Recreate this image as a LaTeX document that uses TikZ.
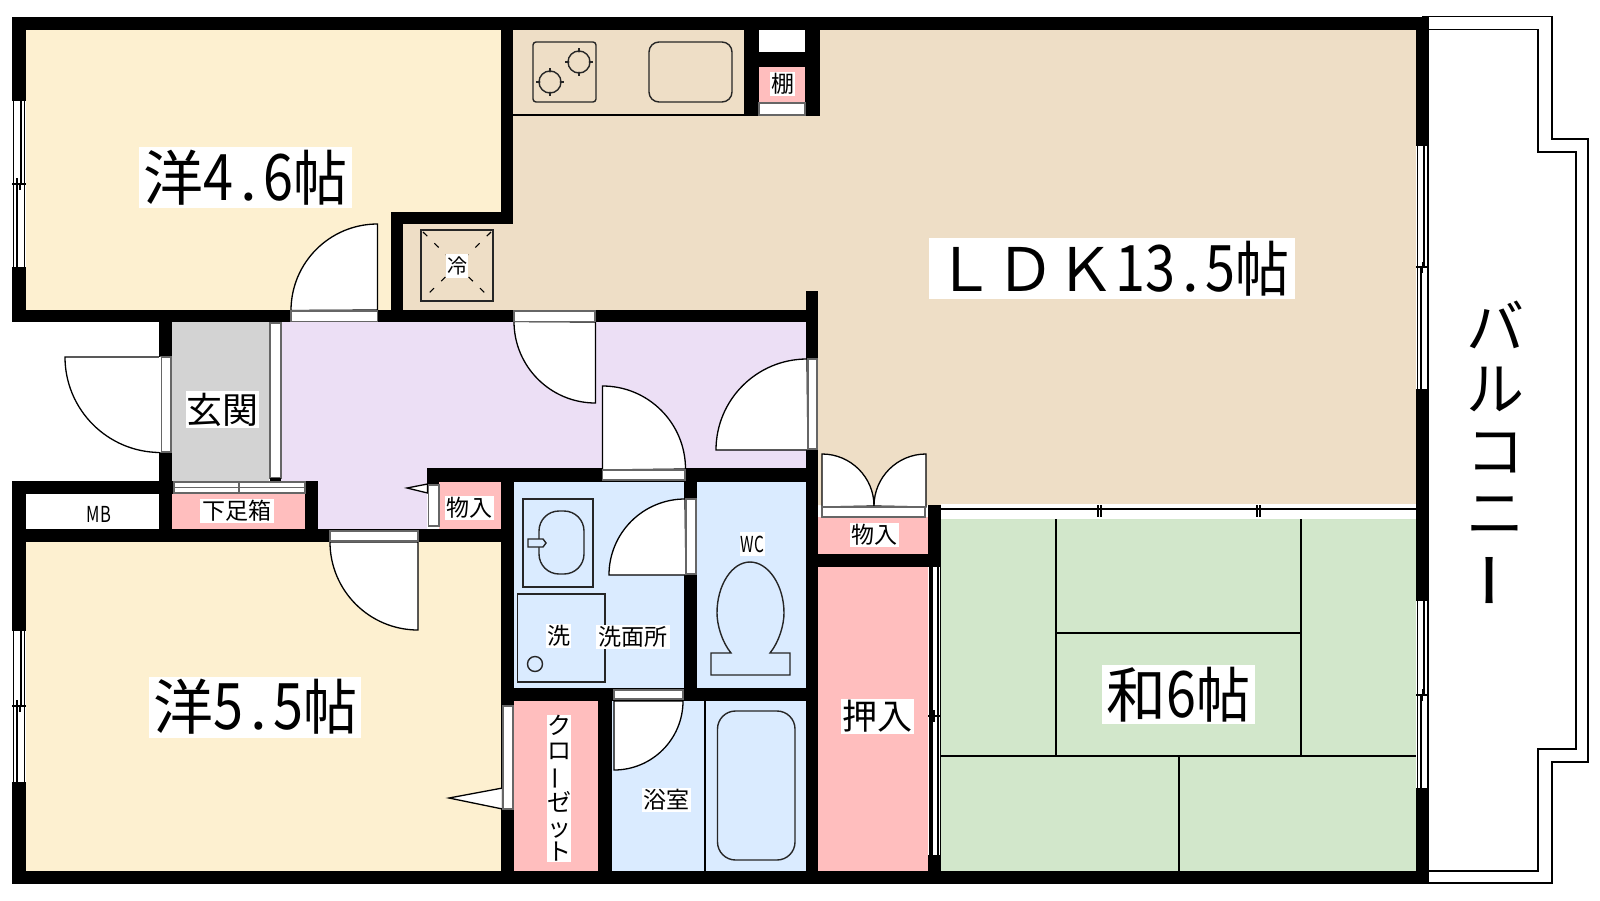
\documentclass[tikz,border=0pt]{standalone}
\usepackage{fontspec}
\setmainfont{Noto Sans CJK JP}
\definecolor{creamroom}{HTML}{FDF0D0}
\definecolor{tanroom}{HTML}{EEDEC6}
\definecolor{purpleroom}{HTML}{ECDFF5}
\definecolor{grayroom}{HTML}{D3D3D3}
\definecolor{pinkroom}{HTML}{FFBEBE}
\definecolor{blueroom}{HTML}{DAEBFF}
\definecolor{greenroom}{HTML}{D2E7CB}
\newcommand{\hw}[1]{\makebox[0.5em][c]{\scalebox{0.9}[1.07]{#1}}}
\newcommand{\hwdot}{\makebox[0.5em][l]{\hspace{7pt}.}}
\newcommand{\jo}{\scalebox{0.9}[1]{帖}}
\begin{document}
\begin{tikzpicture}[x=1pt,y=-1pt]
    \tikzstyle{every node}+=[inner sep=0pt]
    \tikzstyle{wall}=[fill=black]
    \tikzstyle{thin line}=[draw=black,line width=1.1pt]
    \tikzstyle{fixture}=[draw=black!85,line width=1.4pt]
    \tikzstyle{frame}=[draw=black!60,line width=1.1pt,fill=white]
    \tikzstyle{leaf}=[draw=black,line width=1.3pt,fill=white]
    \tikzstyle{label}=[fill=white,text=black,align=center]
    \tikzstyle{big label}=[label,font=\fontsize{60}{60}\selectfont]
    \useasboundingbox (0,0) rectangle (1600,900);
    % rooms
    \fill [creamroom] (26,30) rectangle (501,310);
    \fill [creamroom] (26,542) rectangle (501,871);
    \fill [tanroom] (513,30) -- (1416,30) -- (1416,505) -- (818,505) -- (818,291) -- (806,322) -- (403,322) -- (403,224) -- (513,224) -- cycle;
    \fill [purpleroom] (281,322) -- (806,322) -- (806,468) -- (427,468) -- (427,529) -- (318,529) -- (318,481) -- (281,481) -- cycle;
    \fill [grayroom] (172,322) rectangle (269,481);
    \fill [pinkroom] (172,494) rectangle (305,529);
    \fill [pinkroom] (439,482) rectangle (501,529);
    \fill [pinkroom] (514,701) rectangle (598,871);
    \fill [pinkroom] (818,517) rectangle (928,554);
    \fill [pinkroom] (818,567) rectangle (928,871);
    \fill [pinkroom] (759,67) rectangle (805,102);
    \fill [white] (759,30) rectangle (805,52);
    \fill [blueroom] (514,482) rectangle (684,688);
    \fill [blueroom] (697,482) rectangle (806,688);
    \fill [blueroom] (612,701) rectangle (806,871);
    \fill [greenroom] (941,519) rectangle (1416,871);
    % walls
    \fill [wall] (12,17) rectangle (1429,30);
    \fill [wall] (12,871) rectangle (1429,884);
    \fill [wall] (12,17) rectangle (26,322);
    \fill [wall] (12,481) rectangle (26,884);
    \fill [wall] (1416,17) rectangle (1429,884);
    \fill [wall] (12,310) rectangle (403,322);
    \fill [wall] (391,212) rectangle (403,322);
    \fill [wall] (391,212) rectangle (513,224);
    \fill [wall] (501,17) rectangle (513,224);
    \fill [wall] (403,310) rectangle (818,322);
    \fill [wall] (806,291) rectangle (818,884);
    \fill [wall] (744,17) rectangle (759,116);
    \fill [wall] (805,17) rectangle (820,116);
    \fill [wall] (759,52) rectangle (805,67);
    \fill [wall] (159,322) rectangle (172,494);
    \fill [wall] (12,481) rectangle (318,494);
    \fill [wall] (159,481) rectangle (172,542);
    \fill [wall] (305,481) rectangle (318,542);
    \fill [wall] (12,529) rectangle (513,542);
    \fill [wall] (427,468) rectangle (818,482);
    \fill [wall] (427,468) rectangle (439,485);
    \fill [wall] (501,468) rectangle (514,884);
    \fill [wall] (684,468) rectangle (697,701);
    \fill [wall] (501,688) rectangle (818,701);
    \fill [wall] (598,688) rectangle (612,884);
    \fill [wall] (928,505) rectangle (941,567);
    \fill [wall] (818,554) rectangle (941,567);
    \fill [wall] (928,855) rectangle (941,871);
    % balcony
    \draw [thin line] (1422,16.5) -- (1552,16.5) -- (1552,139) -- (1588,139) -- (1588,762) -- (1552,762) -- (1552,883) -- (1422,883);
    \draw [thin line] (1429,29.5) -- (1538,29.5) -- (1538,152) -- (1576,152) -- (1576,749) -- (1538,749) -- (1538,871) -- (1429,871);
    % windows
    \fill [white] (12,101) rectangle (26,267);
    \draw [thin line] (13.5,101) -- (13.5,267) (24.5,101) -- (24.5,267) (21,101) -- (21,184) (17,184) -- (17,267) (12,184) -- (26,184) (17,178) -- (17,184) (20,184) -- (20,190);
    \fill [white] (12,631) rectangle (26,782);
    \draw [thin line] (13.5,631) -- (13.5,782) (24.5,631) -- (24.5,782) (21,631) -- (21,706) (17,706) -- (17,782) (12,706) -- (26,706) (17,700) -- (17,706) (20,706) -- (20,712);
    \fill [white] (1416,146) rectangle (1429,389);
    \draw [thin line] (1417.5,146) -- (1417.5,389) (1428,146) -- (1428,389) (1424,146) -- (1424,267) (1421,267) -- (1421,389) (1416,267) -- (1429,267) (1422.5,262) -- (1422.5,273);
    \fill [white] (1416,601) rectangle (1429,788);
    \draw [thin line] (1417.5,601) -- (1417.5,788) (1428,601) -- (1428,788) (1424,601) -- (1424,695) (1421,695) -- (1421,788) (1416,695) -- (1429,695) (1422.5,689) -- (1422.5,701);
    \fill [white] (941,504) rectangle (1416,519);
    \draw [thin line] (941,509) -- (1416,509) (1098,505) -- (1098,517) (1101,505) -- (1101,517) (1257,505) -- (1257,517) (1260,505) -- (1260,517);
    \fill [white] (928,567) rectangle (941,855);
    \draw [thin line,fill=black!35] (930,567) rectangle (932,855);
    \draw [thin line] (938,567) -- (938,855) (940.5,567) -- (940.5,855) (928,716) -- (941,716) (934,710) -- (934,722);
    % tatami
    \draw [thin line] (1056,519) -- (1056,756) (1301,519) -- (1301,756) (1056,633) -- (1301,633) (941,756) -- (1416,756) (1179,756) -- (1179,871);
    % doors
    \draw [leaf] (377.5,310) -- (377.5,224) arc (-90:-180:86.5) -- cycle;
    \draw [frame] (291,311) rectangle (377.5,321.5);
    \draw [leaf] (595.5,322) -- (595.5,403) arc (90:180:81.5) -- cycle;
    \draw [frame] (514,311) rectangle (595,321.5);
    \draw [leaf] (161,357) -- (65,357) arc (180:90:95.5) -- cycle;
    \draw [frame] (161,357) rectangle (171,452);
    \fill [white] (159,357) rectangle (161,452);
    \draw [frame] (270,323) rectangle (281,478);
    \fill [wall] (270,478) rectangle (281,481);
    \draw [frame] (174,482) rectangle (239,487.5);
    \draw [frame] (174,487.5) rectangle (239,493);
    \draw [frame] (239,482) rectangle (305,487.5);
    \draw [frame] (239,487.5) rectangle (305,493);
    \draw [leaf] (418,542) -- (418,630) arc (90:180:88) -- cycle;
    \draw [frame] (330,531) rectangle (418,541);
    \draw [leaf] (427.5,484) -- (407,488) -- (427.5,493) -- cycle;
    \draw [frame] (428.5,485) rectangle (439,526);
    \draw [leaf] (602.5,470) -- (602.5,386) arc (-90:0:83) -- cycle;
    \draw [frame] (602.5,470) rectangle (685,480);
    \draw [leaf] (808,450) -- (716,450) arc (180:270:91) -- cycle;
    \draw [frame] (808,359) rectangle (817,449);
    \draw [leaf] (686,575) -- (609,575) arc (180:270:76) -- cycle;
    \draw [frame] (686,499) rectangle (696,574);
    \draw [leaf] (614,701) -- (614,770) arc (90:0:69) -- cycle;
    \draw [frame] (614,690) rectangle (683,699);
    \draw [leaf] (502.5,788) -- (449,798) -- (502.5,809) -- cycle;
    \draw [frame] (503,706) rectangle (513,809);
    \draw [leaf] (822,507) -- (822,454) arc (-90:0:52) -- cycle;
    \draw [leaf] (926,507) -- (926,454) arc (-90:-180:52) -- cycle;
    \draw [frame] (822,507) rectangle (925,517);
    \draw [frame] (759,103) rectangle (805,115);
    % fixtures
    \draw [thin line] (513,115) -- (744,115);
    \draw [fixture,rounded corners=3pt] (533,42) rectangle (596,102);
    \draw [fixture] (550,68) -- (550,96) (536,82) -- (564,82) (579,48) -- (579,76) (565,62) -- (593,62);
    \fill [tanroom] (550,82) circle (9.8);
    \fill [tanroom] (579,62) circle (9.8);
    \draw [fixture] (550,82) circle (11);
    \draw [fixture] (579,62) circle (11);
    \draw [fixture,rounded corners=10pt] (649,42) rectangle (732,102);
    \draw [fixture] (421,230) rectangle (493,301);
    \draw [thin line,dash pattern=on 6pt off 10pt] (423,232) -- (491,299) (491,232) -- (423,299);
    \draw [fixture] (523,499) rectangle (593,587);
    \draw [fixture,rounded corners=20pt] (539,511) rectangle (584,574);
    \draw [fixture,fill=blueroom] (528,539) -- (543,539) -- (546,543) -- (543,547) -- (528,547) -- cycle;
    \draw [fixture] (517.5,594) rectangle (605,682);
    \draw [fixture] (535,664) circle (7.5);
    \draw [fixture] (731,653) .. controls (722,642) and (717,625) .. (717,613) .. controls (717,585) and (732,562) .. (750,562) .. controls (768,562) and (784,585) .. (784,613) .. controls (784,625) and (779,642) .. (770,653) -- (790,653) -- (790,675) -- (711,675) -- (711,653) -- cycle;
    \draw [thin line] (705,701) -- (705,871);
    \draw [fixture,rounded corners=18pt] (717.5,711) rectangle (795,860);
    % labels
    \node [big label,minimum width=213pt,minimum height=61pt] (west46) at (245.5,177.5) {洋\hw{4}\hwdot\hw{6}\jo};
    \node [big label,minimum width=212pt,minimum height=61pt] (west55) at (255,707) {洋\hw{5}\hwdot\hw{5}\jo};
    \node [big label,minimum width=366pt,minimum height=61pt] (ldk) at (1112,268.5) {ＬＤＫ\hw{1}\hw{3}\hwdot\hw{5}\jo};
    \node [big label,minimum width=153pt,minimum height=59pt] (wa6) at (1178.5,694.5) {和\hw{6}\jo};
    \node [label,minimum width=73pt,minimum height=37pt,font=\fontsize{36}{36}\selectfont] (genkan) at (222.5,409.5) {玄関};
    \node [label,minimum width=73pt,minimum height=35pt,font=\fontsize{35}{35}\selectfont] (oshiire) at (877.5,716.5) {押入};
    \node [label,minimum width=74pt,minimum height=24pt,font=\fontsize{23}{23}\selectfont] (geta) at (237,511) {下足箱};
    \node [label,minimum width=49pt,minimum height=24pt,font=\fontsize{23}{23}\selectfont] (mono1) at (469,508) {物入};
    \node [label,minimum width=49pt,minimum height=24pt,font=\fontsize{23}{23}\selectfont] (mono2) at (874.5,535) {物入};
    \node [label,minimum width=25pt,minimum height=24pt,font=\fontsize{23}{23}\selectfont] (tana) at (782.5,84) {棚};
    \node [label,minimum width=22pt,minimum height=24pt,font=\fontsize{20}{20}\selectfont] (rei) at (457,266) {冷};
    \node [fill=none,font=\fontsize{22}{22}\selectfont] (mb) at (99,514) {\scalebox{0.75}[1]{MB}};
    \node [label,minimum width=25pt,minimum height=24pt,font=\fontsize{22}{22}\selectfont] (wc) at (752.5,544) {\scalebox{0.7}[1]{WC}};
    \node [label,minimum width=25pt,minimum height=24pt,font=\fontsize{23}{23}\selectfont] (sen) at (558.5,636) {洗};
    \node [label,minimum width=74pt,minimum height=24pt,font=\fontsize{23}{23}\selectfont] (senmen) at (633,636.5) {洗面所};
    \node [label,minimum width=49pt,minimum height=24pt,font=\fontsize{23}{23}\selectfont] (yoku) at (666.5,800) {浴室};
    \node [label,minimum width=24pt,minimum height=147pt,font=\fontsize{24}{24.5}\selectfont] (closet) at (559,788.5) {ク\\ロ\\\rotatebox[origin=c]{90}{ー}\\ゼ\\ッ\\ト};
    \node [font=\fontsize{58}{62}\selectfont,align=center] (balcony) at (1495,455) {バ\\ル\\コ\\ニ\\\hspace*{14pt}\rotatebox[origin=c]{90}{\scalebox{1}[1.3]{ー}}};
\end{tikzpicture}
\end{document}
